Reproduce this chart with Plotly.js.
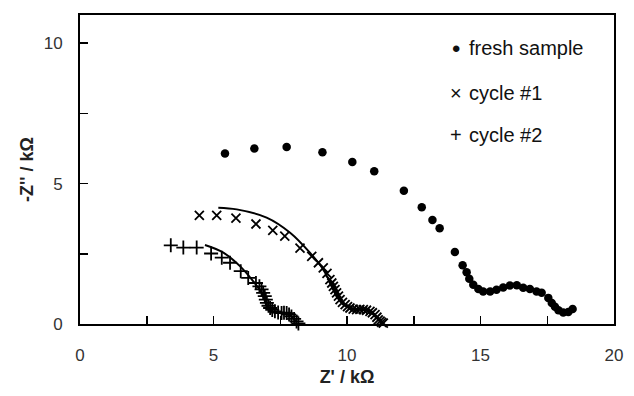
<!DOCTYPE html>
<html>
<head>
<meta charset="utf-8">
<script src="https://cdn.plot.ly/plotly-3.0.1.min.js"></script>
<style>html,body{margin:0;padding:0;background:#fff;}#chart{width:634px;height:396px;}</style>
</head>
<body>
<div id="chart"></div>
<script>
// Fresh sample (filled circles)
const freshX = [5.43,6.53,7.74,9.08,10.2,11.02,12.13,12.8,13.2,13.47,14.04,14.33,14.48,14.58,14.73,14.92,15.1,15.36,15.6,15.85,16.1,16.36,16.6,16.85,17.1,17.29,17.54,17.67,17.79,17.92,18.1,18.29,18.45];
const freshY = [6.07,6.25,6.30,6.11,5.77,5.44,4.74,4.16,3.70,3.41,2.56,2.09,1.84,1.61,1.40,1.25,1.16,1.16,1.22,1.30,1.37,1.38,1.29,1.25,1.16,1.11,0.93,0.75,0.61,0.49,0.41,0.43,0.53];
// Cycle #1 (x markers)
const cyc1X = [4.47,5.12,5.84,6.59,7.22,7.67,8.24,8.68,8.93,9.11,9.25,9.36,9.43,9.49,9.55,9.61,9.68,9.74,9.83,9.93,10.02,10.11,10.23,10.36,10.48,10.61,10.73,10.86,10.95,11.05,11.12,11.17,11.24,11.3,11.36];
const cyc1Y = [3.87,3.87,3.77,3.56,3.33,3.13,2.70,2.41,2.18,2.00,1.80,1.58,1.46,1.34,1.22,1.11,0.99,0.87,0.77,0.69,0.62,0.57,0.53,0.51,0.52,0.51,0.49,0.45,0.40,0.33,0.24,0.15,0.10,0.06,0.03];
// Cycle #2 (+ markers)
const cyc2X = [3.40,3.87,4.37,4.91,5.31,5.62,6.02,6.30,6.59,6.72,6.80,6.86,6.92,6.96,7.00,7.06,7.12,7.20,7.30,7.42,7.55,7.64,7.74,7.83,7.92,8.02,8.11,8.18];
const cyc2Y = [2.80,2.72,2.72,2.51,2.36,2.18,1.88,1.64,1.46,1.34,1.23,1.11,0.99,0.87,0.75,0.65,0.57,0.50,0.45,0.41,0.39,0.40,0.39,0.34,0.27,0.18,0.09,0.02];
// Fitted curves
const fit1X = [5.18,5.87,6.99,7.87,8.61,9.11,9.43,9.61,9.86,10.24,10.74,11.11,11.36];
const fit1Y = [4.14,4.08,3.79,3.25,2.54,1.94,1.34,0.99,0.69,0.54,0.49,0.27,0.04];
const fit2X = [4.68,5.37,5.99,6.49,6.80,6.99,7.18,7.55,7.87,8.11];
const fit2Y = [2.81,2.54,2.06,1.52,1.11,0.69,0.45,0.39,0.30,0.06];
// Legend labels and tick labels
const legendGlyphs = ["\u2022","\u00d7","+"];
const legendLabels = ["fresh sample","cycle #1","cycle #2"];
const xTickVals = [0,5,10,15,20];
const yTickVals = [0,5,10];

const traces = [
  {x: freshX, y: freshY, type:'scatter', mode:'markers', name:'fresh sample', cliponaxis:false,
   marker:{symbol:'circle', size:8.5, color:'#000'}},
  {x: cyc1X, y: cyc1Y, type:'scatter', mode:'markers', name:'cycle #1', cliponaxis:false,
   marker:{symbol:'x-thin-open', size:9, color:'#000', line:{width:1.8, color:'#000'}}},
  {x: cyc2X, y: cyc2Y, type:'scatter', mode:'markers', name:'cycle #2', cliponaxis:false,
   marker:{symbol:'cross-thin-open', size:10, color:'#000', line:{width:1.8, color:'#000'}}},
  {x: fit1X, y: fit1Y, type:'scatter', mode:'lines', name:'fit #1', cliponaxis:false,
   line:{color:'#000', width:2, shape:'spline'}},
  {x: fit2X, y: fit2Y, type:'scatter', mode:'lines', name:'fit #2', cliponaxis:false,
   line:{color:'#000', width:2, shape:'spline'}}
];

const legendY = [0.893, 0.748, 0.612];
const annotations = [];
for (let i = 0; i < legendLabels.length; i++) {
  annotations.push({xref:'paper', yref:'paper', x:0.705, y:legendY[i], xanchor:'center', yanchor:'middle',
    text:legendGlyphs[i], showarrow:false, font:{family:'Liberation Sans, Arial, sans-serif', size:i===0?24:20, color:'#111'}});
  annotations.push({xref:'paper', yref:'paper', x:0.725, y:legendY[i], xanchor:'left', yanchor:'middle',
    text:legendLabels[i], showarrow:false, font:{family:'Liberation Sans, Arial, sans-serif', size:20, color:'#111'}});
}

const axisCommon = {
  showgrid:false, zeroline:false, showline:true, linecolor:'#000', linewidth:2, mirror:true,
  ticks:'inside', ticklen:8, tickwidth:1.5, tickcolor:'#000',
  tickfont:{family:'Liberation Sans, Arial, sans-serif', size:17, color:'#333'},
  automargin:false
};

const layout = {
  width:634, height:396,
  margin:{l:80, r:20, t:15, b:72},
  paper_bgcolor:'#fff', plot_bgcolor:'#fff',
  showlegend:false,
  xaxis: Object.assign({}, axisCommon, {
    range:[0,20], tickvals:xTickVals, ticktext:xTickVals.map(String), ticklabelstandoff:15,
    minor:{dtick:2.5, tick0:0, ticks:'inside', ticklen:8, tickwidth:1.5, tickcolor:'#000', showgrid:false},
    title:{text:"Z' / k\u03a9", standoff:6, font:{family:'Liberation Sans, Arial, sans-serif', size:18, color:'#222', weight:'bold'}}
  }),
  yaxis: Object.assign({}, axisCommon, {
    range:[0,11], tickvals:yTickVals, ticktext:yTickVals.map(String), ticklabelstandoff:12,
    minor:{dtick:2.5, tick0:0, ticks:'inside', ticklen:8, tickwidth:1.5, tickcolor:'#000', showgrid:false},
    title:{text:"-Z'' / k\u03a9", standoff:5, font:{family:'Liberation Sans, Arial, sans-serif', size:18, color:'#222', weight:'bold'}}
  }),
  annotations: annotations
};

Plotly.newPlot('chart', traces, layout, {staticPlot:true, displayModeBar:false});
</script>
</body>
</html>
